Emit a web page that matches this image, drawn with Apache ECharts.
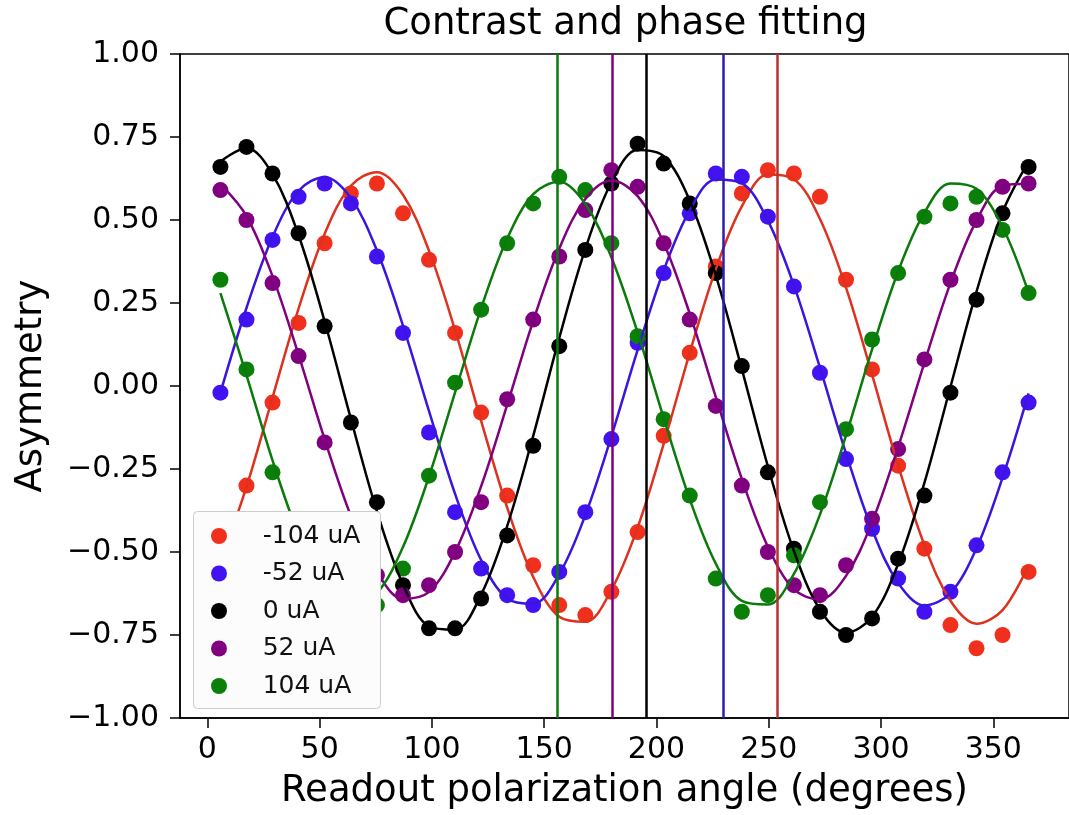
<!DOCTYPE html>
<html><head><meta charset="utf-8">
<script src="https://cdn.jsdelivr.net/npm/echarts@6/dist/echarts.min.js"></script>
<style>html,body{margin:0;padding:0;background:#fff}#c{width:1069px;height:815px}</style>
</head><body><div id="c"></div>
<script>
// ---- data ----
const angles = [5.8, 17.4, 29.0, 40.6, 52.2, 63.9, 75.5, 87.1, 98.7, 110.3, 121.9, 133.5, 145.1, 156.7, 168.3, 179.9,
  191.6, 203.2, 214.8, 226.4, 238.0, 249.6, 261.2, 272.8, 284.4, 296.0, 307.6, 319.3, 330.9, 342.5, 354.1, 365.7];
const labels = ['-104 uA', '-52 uA', '0 uA', '52 uA', '104 uA'];

const asymM104 = [-0.46, -0.30, -0.05, 0.19, 0.43, 0.58, 0.61, 0.52, 0.38, 0.16, -0.08, -0.33, -0.54, -0.66, -0.69, -0.62,
  -0.44, -0.15, 0.10, 0.36, 0.58, 0.65, 0.64, 0.57, 0.32, 0.05, -0.24, -0.49, -0.72, -0.79, -0.75, -0.56];
const asymM52 = [-0.02, 0.20, 0.44, 0.57, 0.61, 0.55, 0.39, 0.16, -0.14, -0.38, -0.55, -0.63, -0.66, -0.56, -0.38, -0.16,
  0.13, 0.34, 0.52, 0.64, 0.63, 0.51, 0.30, 0.04, -0.22, -0.43, -0.58, -0.68, -0.62, -0.48, -0.26, -0.05];
const asym0 = [0.66, 0.72, 0.64, 0.46, 0.18, -0.11, -0.35, -0.60, -0.73, -0.73, -0.64, -0.45, -0.18, 0.12, 0.41, 0.61,
  0.73, 0.67, 0.55, 0.34, 0.06, -0.26, -0.49, -0.68, -0.75, -0.70, -0.52, -0.33, -0.02, 0.26, 0.52, 0.66];
const asymP52 = [0.59, 0.50, 0.31, 0.09, -0.17, -0.41, -0.57, -0.63, -0.60, -0.50, -0.35, -0.04, 0.20, 0.39, 0.53, 0.65,
  0.60, 0.43, 0.20, -0.06, -0.30, -0.50, -0.60, -0.63, -0.54, -0.40, -0.19, 0.08, 0.32, 0.50, 0.60, 0.61];
const asymP104 = [0.32, 0.05, -0.26, -0.50, -0.60, -0.65, -0.66, -0.55, -0.27, 0.01, 0.23, 0.43, 0.55, 0.63, 0.59, 0.43,
  0.15, -0.10, -0.33, -0.58, -0.68, -0.63, -0.51, -0.35, -0.13, 0.14, 0.34, 0.51, 0.55, 0.57, 0.47, 0.28];

// fitted curves at the same angles
const fitM104 = [-0.529, -0.304, -0.035, 0.233, 0.458, 0.603, 0.644, 0.576, 0.407, 0.168, -0.105, -0.366, -0.575, -0.695, -0.710, -0.614,
  -0.426, -0.174, 0.100, 0.352, 0.541, 0.637, 0.623, 0.503, 0.296, 0.034, -0.239, -0.479, -0.647, -0.716, -0.675, -0.540];
const fitM52 = [-0.020, 0.235, 0.449, 0.588, 0.629, 0.566, 0.408, 0.182, -0.076, -0.325, -0.524, -0.640, -0.656, -0.567, -0.389, -0.152,
  0.109, 0.348, 0.529, 0.622, 0.611, 0.498, 0.303, 0.055, -0.203, -0.432, -0.593, -0.661, -0.624, -0.489, -0.276, -0.022];
const fit0 = [0.676, 0.717, 0.638, 0.454, 0.195, -0.099, -0.378, -0.598, -0.724, -0.734, -0.628, -0.422, -0.150, 0.145, 0.413, 0.613,
  0.711, 0.692, 0.559, 0.333, 0.051, -0.242, -0.497, -0.674, -0.743, -0.695, -0.536, -0.292, -0.003, 0.284, 0.524, 0.676];
const fitP52 = [0.608, 0.512, 0.331, 0.094, -0.160, -0.391, -0.560, -0.641, -0.620, -0.500, -0.302, -0.057, 0.196, 0.414, 0.563, 0.619,
  0.572, 0.431, 0.218, -0.033, -0.280, -0.484, -0.612, -0.643, -0.572, -0.410, -0.184, 0.070, 0.310, 0.498, 0.603, 0.609];
const fitP104 = [0.280, 0.033, -0.224, -0.447, -0.603, -0.665, -0.624, -0.485, -0.272, -0.019, 0.234, 0.444, 0.578, 0.615, 0.548, 0.388,
  0.161, -0.096, -0.341, -0.535, -0.647, -0.658, -0.566, -0.387, -0.149, 0.110, 0.345, 0.522, 0.610, 0.594, 0.479, 0.281];

// fitted phase (degrees) for each current
const phases = [253.8, 229.8, 195.5, 180.5, 156.0];

const xTicks = [0, 50, 100, 150, 200, 250, 300, 350];
const yTicks = [-1, -0.75, -0.5, -0.25, 0, 0.25, 0.5, 0.75, 1];

// ---- styles ----
const pointColors = ['#f0301c', '#4212f2', '#000000', '#800080', '#0a800a'];
const lineColors = ['#dc321e', '#3c14e0', '#000000', '#800080', '#0a7a0a'];
const vlineColors = ['#b8302c', '#2e1eaa', '#000000', '#800080', '#0a7a0a'];
const FONT = 'DejaVu Sans';

const asyms = [asymM104, asymM52, asym0, asymP52, asymP104];
const fits = [fitM104, fitM52, fit0, fitP52, fitP104];

const series = [];
labels.forEach((name, k) => {
  series.push({
    type: 'scatter', name, z: 1,
    symbol: 'circle', symbolSize: 16,
    itemStyle: { color: pointColors[k], opacity: 1 },
    data: angles.map((a, i) => [a, asyms[k][i]]),
    silent: true
  });
});
labels.forEach((name, k) => {
  series.push({
    type: 'line', name: name + ' fit', z: 2,
    smooth: 0.35, showSymbol: false, symbol: 'none',
    lineStyle: { color: lineColors[k], width: 2.5 },
    data: angles.map((a, i) => [a, fits[k][i]]),
    silent: true
  });
});
series.push({
  type: 'line', name: 'phases', data: [], z: 3, silent: true,
  markLine: {
    silent: true, symbol: 'none', label: { show: false },
    animation: false,
    data: phases.map((p, k) => ({ xAxis: p, lineStyle: { color: vlineColors[k], width: 2.5, type: 'solid' } }))
  }
});

const fmtY = v => (v < 0 ? '\u2212' : '') + Math.abs(v).toFixed(2);

const chart = echarts.init(document.getElementById('c'), null, { renderer: 'canvas' });
chart.setOption({
  animation: false,
  backgroundColor: '#ffffff',
  title: {
    text: 'Contrast and phase fitting',
    left: 625.5, top: 6, padding: 0, textAlign: 'center',
    textStyle: { fontFamily: FONT, fontSize: 37, fontWeight: 'normal', color: '#000' }
  },
  grid: {
    left: 180, top: 54, right: -2, bottom: 96,
    show: true, borderColor: '#000', borderWidth: 1.5, backgroundColor: 'transparent'
  },
  graphic: {
    elements: [{
      type: 'rect', z: 50, silent: true,
      left: 193, top: 511,
      shape: { x: 0, y: 0, width: 187, height: 197, r: 4 },
      style: { fill: '#fcfcfc', stroke: '#cccccc', lineWidth: 1 }
    }]
  },
  legend: {
    data: labels,
    orient: 'vertical', left: 193, top: 512,
    icon: 'circle', itemWidth: 31.4, itemHeight: 16, itemGap: 11.5,
    padding: [11, 12, 9, 18],
    textStyle: { fontFamily: FONT, fontSize: 25, color: '#111', lineHeight: 26, padding: [0, 0, 0, 23] },
    selectedMode: false, z: 60
  },
  xAxis: {
    type: 'value', min: -12.2, max: 383.7,
    name: 'Readout polarization angle (degrees)', nameLocation: 'middle', nameGap: 55,
    nameTextStyle: { fontFamily: FONT, fontSize: 37, color: '#000' },
    axisLine: { show: true, onZero: false, lineStyle: { color: '#000', width: 1.5 } },
    axisTick: { show: true, length: 10, lineStyle: { color: '#000', width: 1.5 }, customValues: xTicks },
    axisLabel: { fontFamily: FONT, fontSize: 30, color: '#000', margin: 17, customValues: xTicks },
    splitLine: { show: false }
  },
  yAxis: {
    type: 'value', min: -1, max: 1, interval: 0.25,
    name: 'Asymmetry', nameLocation: 'middle', nameGap: 130, nameRotate: 90,
    nameTextStyle: { fontFamily: FONT, fontSize: 37, color: '#000' },
    axisLine: { show: true, onZero: false, lineStyle: { color: '#000', width: 1.5 } },
    axisTick: { show: true, length: 10, lineStyle: { color: '#000', width: 1.5 }, customValues: yTicks },
    axisLabel: { fontFamily: FONT, fontSize: 30, color: '#000', margin: 21, formatter: fmtY, customValues: yTicks },
    splitLine: { show: false }
  },
  series
});
</script></body></html>
